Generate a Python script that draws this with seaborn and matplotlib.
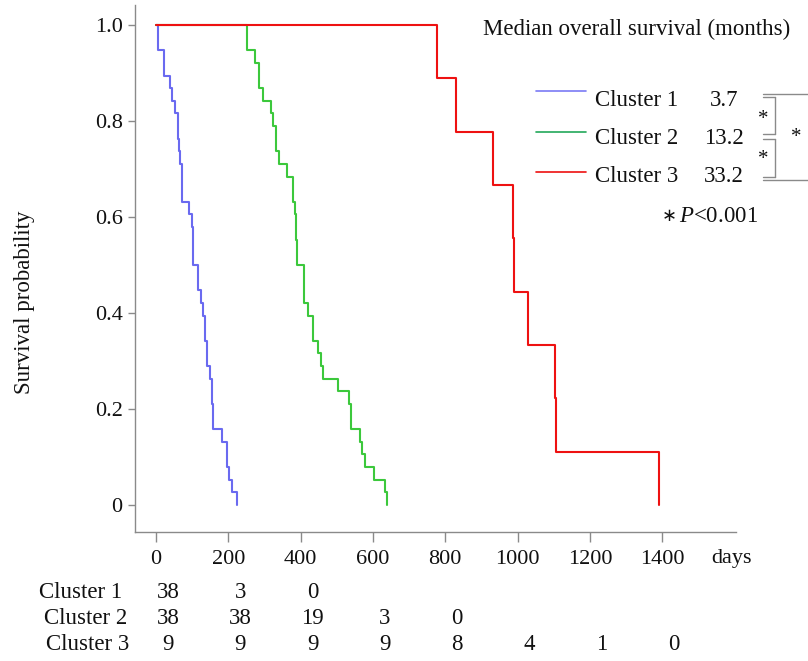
import numpy as np
import pandas as pd
import seaborn as sns
import matplotlib.pyplot as plt
from matplotlib.lines import Line2D
from matplotlib import transforms

# ---------------- data ----------------
clusters = ["Cluster 1", "Cluster 2", "Cluster 3"]
death_days_c1 = [5, 5, 23, 23, 39, 45, 53, 62, 62, 64, 66, 73, 73, 73, 91, 99,
                 103, 103, 103, 117, 117, 124, 131, 136, 136, 142, 142, 149,
                 154, 154, 159, 159, 182, 196, 196, 202, 211, 223]
death_days_c2 = [253, 253, 274, 286, 286, 297, 318, 325, 331, 331, 341, 362,
                 380, 380, 384, 386, 387, 389, 390, 409, 409, 409, 421, 433,
                 433, 449, 456, 461, 502, 535, 539, 539, 564, 571, 578, 603,
                 632, 638]
death_days_c3 = [776, 830, 931, 987, 990, 1028, 1104, 1107, 1391]
median_os_months = ["3.7", "13.2", "33.2"]
time_ticks = [0, 200, 400, 600, 800, 1000, 1200, 1400]
at_risk_c1 = [38, 3, 0]
at_risk_c2 = [38, 38, 19, 3, 0]
at_risk_c3 = [9, 9, 9, 9, 8, 4, 1, 0]
y_ticks = [0, 0.2, 0.4, 0.6, 0.8, 1.0]
y_tick_labels = ["0", "0.2", "0.4", "0.6", "0.8", "1.0"]

curve_colors = ["#6a6af0", "#3cc83c", "#ee1111"]
legend_colors = ["#7a7af5", "#22a85a", "#ee1111"]


def km_steps(days):
    d = np.sort(np.asarray(days, dtype=float))
    n = len(d)
    uniq, counts = np.unique(d, return_counts=True)
    surv = 1 - np.cumsum(counts) / n
    return np.r_[0.0, uniq], np.r_[1.0, surv]


frames = []
for name, days in zip(clusters, [death_days_c1, death_days_c2, death_days_c3]):
    x, y = km_steps(days)
    frames.append(pd.DataFrame({"day": x, "surv": y, "cluster": name}))
df = pd.concat(frames, ignore_index=True)

# ---------------- style ----------------
sns.set_style("ticks")
plt.rcParams["font.family"] = ["Liberation Serif", "DejaVu Serif"]
plt.rcParams["mathtext.fontset"] = "custom"
plt.rcParams["mathtext.rm"] = "Liberation Serif"
plt.rcParams["mathtext.it"] = "Liberation Serif:italic"

W, H = 808, 661
fig = plt.figure(figsize=(W / 100, H / 100), dpi=100)
ax = fig.add_axes([135 / W, 1 - 531.7 / H, (736 - 135) / W, (531.7 - 5) / H])


def P(x, y):
    return (x / W, 1 - y / H)


sns.lineplot(data=df, x="day", y="surv", hue="cluster", hue_order=clusters,
             palette=curve_colors, estimator=None, sort=False,
             drawstyle="steps-post", linewidth=1.5, legend=False, ax=ax)

ax.set_xlim(-58, 1604)
ax.set_ylim(-0.0556, 1.0417)
ax.set_xticks(time_ticks)
ax.set_xticklabels([str(t) for t in time_ticks])
ax.set_yticks(y_ticks)
ax.set_yticklabels(y_tick_labels)
ax.set_xlabel("")
ax.set_ylabel("")
for s in ["top", "right"]:
    ax.spines[s].set_visible(False)
for s in ["left", "bottom"]:
    ax.spines[s].set_color("#8a8a8a")
    ax.spines[s].set_linewidth(1.0)
ax.tick_params(axis="y", length=5, width=1, color="#8a8a8a", pad=4,
               labelsize=16, labelcolor="#111111")
ax.tick_params(axis="x", length=7, width=1, color="#8a8a8a", pad=6,
               labelsize=16, labelcolor="#111111")

fs = 16.5
tc = "#111111"
# y label
fig.text(*P(25, 302), "Survival probability", rotation=90, ha="center",
         va="center", fontsize=fs, color=tc)
# days label
fig.text(*P(732, 559), "days", ha="center", va="center", fontsize=16, color=tc)

# title of legend block
fig.text(*P(483, 35), "Median overall survival (months)", ha="left",
         va="baseline", fontsize=fs, color=tc)

# legend rows
line_y = [91, 132, 172]
base_y = [106, 144, 182]
for i, name in enumerate(clusters):
    fig.add_artist(Line2D([536 / W, 586 / W], [1 - line_y[i] / H] * 2,
                          color=legend_colors[i], lw=1.2,
                          transform=fig.transFigure))
    fig.text(*P(595, base_y[i]), name, ha="left", va="baseline",
             fontsize=fs, color=tc)
    fig.text(*P(724, base_y[i]), median_os_months[i], ha="center",
             va="baseline", fontsize=fs, color=tc)

# brackets
bc = "#8a8a8a"
segs = [
    [(763, 93.5), (808, 93.5)],
    [(763, 96.5), (775, 96.5)], [(775, 96.5), (775, 134)], [(763, 134), (775, 134)],
    [(763, 139), (775, 139)], [(775, 139), (775, 177)], [(763, 177), (775, 177)],
    [(763, 179.5), (808, 179.5)],
]
for (x0, y0), (x1, y1) in segs:
    fig.add_artist(Line2D([x0 / W, x1 / W], [1 - y0 / H, 1 - y1 / H],
                          color=bc, lw=1.0, transform=fig.transFigure))
for (sx, sy) in [(763, 119), (763, 160), (796, 137)]:
    fig.text(*P(sx, sy), "*", ha="center", va="center", fontsize=15, color=tc)

fig.text(*P(669, 216), "\u2217", ha="center", va="center", fontsize=13,
         color=tc, family=["DejaVu Sans"])
fig.text(*P(679, 222), "$\\mathit{P}$<0.001", ha="left", va="baseline",
         fontsize=fs, color=tc)

# at-risk table
row_y = [593, 619, 644]
row_lab_x = [81, 85.5, 88]
at_risk = [at_risk_c1, at_risk_c2, at_risk_c3]
off = transforms.ScaledTranslation(12 / 100, 0, fig.dpi_scale_trans)
ytr = transforms.blended_transform_factory(ax.transData, fig.transFigure)
for i, name in enumerate(clusters):
    fig.text(*P(row_lab_x[i], row_y[i]), name, ha="center", va="center",
             fontsize=fs, color=tc)
    for t, v in zip(time_ticks, at_risk[i]):
        ax.text(t, 1 - row_y[i] / H, str(v), ha="center", va="center",
                fontsize=fs, color=tc, transform=ytr + off, clip_on=False)

fig.savefig("out.png", dpi=100)
